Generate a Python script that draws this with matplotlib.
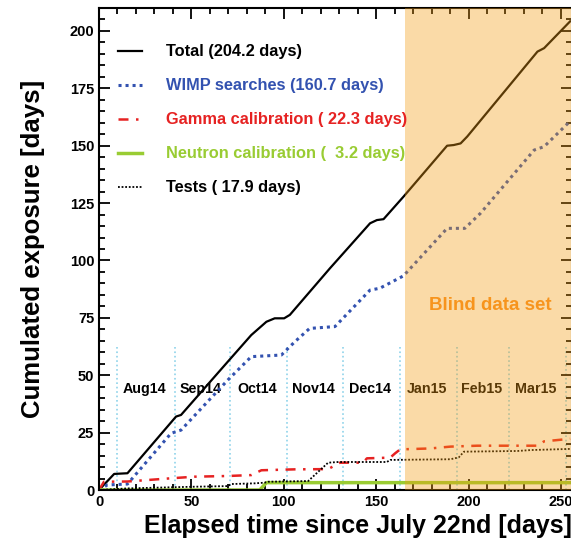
import numpy as np
import matplotlib.pyplot as plt
from matplotlib.ticker import MultipleLocator

plt.rcParams['font.family'] = ['Liberation Sans', 'DejaVu Sans']
plt.rcParams['font.weight'] = 'bold'

# cumulated exposure curves (day, days of exposure)
total_t = [0, 8.2, 15.4, 41.7, 44.4, 69.7, 82.4, 90.6, 95.1, 100.2, 103.3, 125, 146.7, 150.4, 154,
           164.8, 188.4, 192, 195.7, 199.3, 237.3, 240.9, 255]
total_y = [0, 7, 7.3, 32, 32.7, 55.9, 67.5, 73.3, 74.8, 74.8, 76.3, 96.6, 116.2, 117.6, 118,
           127.8, 150, 150.3, 151, 154, 191, 192.5, 204.2]

wimp_t = [0, 4.5, 15.4, 39, 44.4, 69.7, 82.4, 98.7, 106, 114, 127.7, 146.7, 152, 164.8,
          188.4, 198, 206.5, 235.5, 240.9, 255]
wimp_y = [0, 2.2, 2.6, 24.7, 26.1, 47.9, 58.1, 58.8, 64.6, 70.4, 71.2, 87.1, 87.9, 93.3,
          114, 114, 120.6, 148.1, 149.6, 160.7]

gamma_t = [0, 2.7, 15.4, 39, 51.6, 69.7, 82.4, 87.9, 106, 124, 130.4, 143, 145, 157.6, 160.3,
           163, 179.3, 190.2, 204.7, 237.3, 240.9, 255]
gamma_y = [0, 3.6, 3.7, 5.1, 5.8, 6.1, 6.5, 8.6, 9, 9.1, 11.9, 11.9, 13.8, 14.1, 16,
           17.7, 18.1, 18.9, 19.3, 19.3, 21.2, 22.3]

neutron_t = [0, 87, 90.6, 255]
neutron_y = [0, 0, 3.2, 3.2]

tests_t = [0, 15.4, 49.8, 69.7, 71.6, 84.2, 89.7, 91.5, 113.2, 124, 129.5, 155.8, 157.6,
           190.2, 194.7, 197.5, 226.5, 233.7, 255]
tests_y = [0, 0.7, 1.4, 1.7, 2.6, 2.9, 3.2, 3.6, 3.9, 11.9, 12.2, 12.2, 13.1,
           13.4, 14.2, 16.7, 17, 17.4, 17.9]

month_days = [10, 41, 71, 102, 132, 163, 194, 222, 253]
month_names = ['Aug14', 'Sep14', 'Oct14', 'Nov14', 'Dec14', 'Jan15', 'Feb15', 'Mar15']
blind_start = 165.5

fig = plt.figure(figsize=(5.71, 5.48), dpi=100)
ax = fig.add_axes([99 / 571, 58 / 548, 473 / 571, 482 / 548])

for d in month_days:
    ax.plot([d, d], [0, 63], color='#8fd3ea', ls=':', lw=1.2, zorder=1)
for i, name in enumerate(month_names):
    mid = (month_days[i] + month_days[i + 1]) / 2 - 1
    ax.text(mid, 44, name, ha='center', va='center', fontsize=10.3, fontweight='bold', zorder=2)

ax.plot(total_t, total_y, color='black', lw=1.6, label='Total (204.2 days)', zorder=2)
ax.plot(wimp_t, wimp_y, color='#3352b0', lw=2.2, ls=(0, (1, 1.3)), label='WIMP searches (160.7 days)', zorder=2)
ax.plot(gamma_t, gamma_y, color='#e62222', lw=1.8, ls=(0, (4, 3, 1, 3)), label='Gamma calibration ( 22.3 days)', zorder=2)
ax.plot(neutron_t, neutron_y, color='#99cc33', lw=2.5, label='Neutron calibration (  3.2 days)', zorder=2)
ax.plot(tests_t, tests_y, color='black', lw=1.3, ls=(0, (1, 1)), label='Tests ( 17.9 days)', zorder=2)

ax.axvspan(blind_start, 260, color='#f39c12', alpha=0.37, lw=0, zorder=3)
ax.text(212, 80.5, 'Blind data set', color='#f7941d', fontsize=13.5, fontweight='bold',
        ha='center', va='center', zorder=4)

leg = ax.legend(loc='upper left', bbox_to_anchor=(0.01, 0.955), frameon=False, fontsize=11.8,
                handlelength=1.45, handletextpad=1.45, labelspacing=1.16)
for txt, line in zip(leg.get_texts(), leg.get_lines()):
    txt.set_color(line.get_color())
    txt.set_fontweight('bold')

ax.set_xlim(0, 256)
ax.set_ylim(0, 210)
ax.xaxis.set_major_locator(MultipleLocator(50))
ax.xaxis.set_minor_locator(MultipleLocator(10))
ax.yaxis.set_major_locator(MultipleLocator(25))
ax.yaxis.set_minor_locator(MultipleLocator(5))
ax.tick_params(which='both', direction='in', top=True, right=True, width=1.3)
ax.tick_params(which='major', length=8, labelsize=10.5)
ax.tick_params(which='minor', length=4.5)
for lab in ax.get_xticklabels() + ax.get_yticklabels():
    lab.set_fontweight('bold')
for s in ax.spines.values():
    s.set_linewidth(1.5)

ax.set_xlabel('Elapsed time since July 22nd [days]', fontsize=18, fontweight='bold', loc='right')
ax.set_ylabel('Cumulated exposure [days]', fontsize=18.5, fontweight='bold', loc='center', labelpad=18)

fig.savefig('out.png', dpi=100)
